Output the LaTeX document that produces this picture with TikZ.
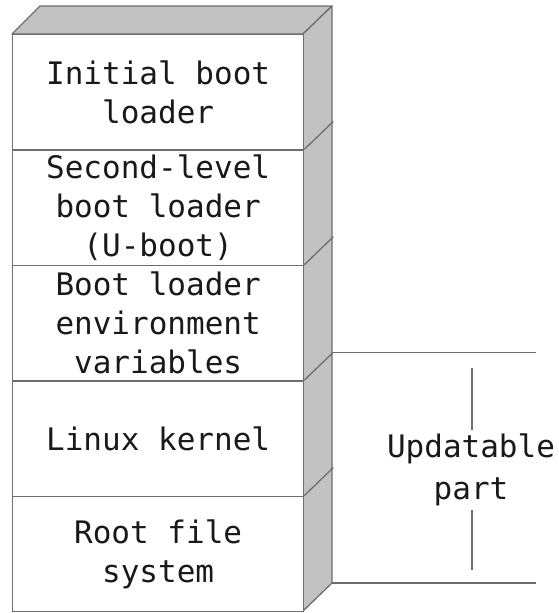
\documentclass[tikz,border=0pt]{standalone}
\usepackage{fontspec}
\setmonofont{DejaVu Sans Mono}
\definecolor{linegray}{RGB}{110,110,110}
\definecolor{sidegray}{RGB}{194,194,194}
\definecolor{textc}{RGB}{25,25,25}
\begin{document}
\begin{tikzpicture}[x=1pt,y=-1pt, line width=1.3pt,
  layer/.style={draw=linegray, fill=white, minimum width=291pt, minimum height=115.4pt,
    anchor=north west, inner sep=0pt, align=center,
    font=\ttfamily\fontsize{31}{39}\selectfont, text=textc},
  face/.style={draw=linegray, fill=sidegray, line join=round},
  edge/.style={draw=linegray},
  lbl/.style={align=center, inner sep=0pt, font=\ttfamily\fontsize{31}{42}\selectfont, text=textc}]
\useasboundingbox (0,0) rectangle (559,613);
% top and side faces
\draw[face] (12,34) -- (40,6) -- (332,6) -- (303,34) -- cycle;
\draw[face] (303,34) -- (332,6) -- (332,583) -- (303,611) -- cycle;
% layers
\node[layer] (l1) at (12,34) {Initial boot\\loader};
\node[layer] (l2) at (12,149.4) {Second-level\\boot loader\\(U-boot)};
\node[layer] (l3) at (12,264.8) {Boot loader\\environment\\variables};
\node[layer] (l4) at (12,380.2) {Linux kernel};
\node[layer] (l5) at (12,495.6) {Root file\\system};
% side-face seams
\foreach \n in {l2,l3,l4,l5}{
  \draw[edge] (\n.north east) -- ++(29,-28);
}
% updatable part bracket
\coordinate (u1) at (332,352.2);
\coordinate (u2) at (332,583);
\coordinate (u1e) at (536,352.2);
\coordinate (u2e) at (536,583);
\draw[edge] (u1) -- (u1e);
\draw[edge] (u2) -- (u2e);
\node[lbl] (up) at (471,470) {Updatable\\part};
\coordinate (v1) at (472,368);
\coordinate (v2) at (472,570);
\coordinate (v1b) at (472,430);
\coordinate (v2b) at (472,510);
\draw[edge] (v1) -- (v1b);
\draw[edge] (v2b) -- (v2);
\end{tikzpicture}
\end{document}
